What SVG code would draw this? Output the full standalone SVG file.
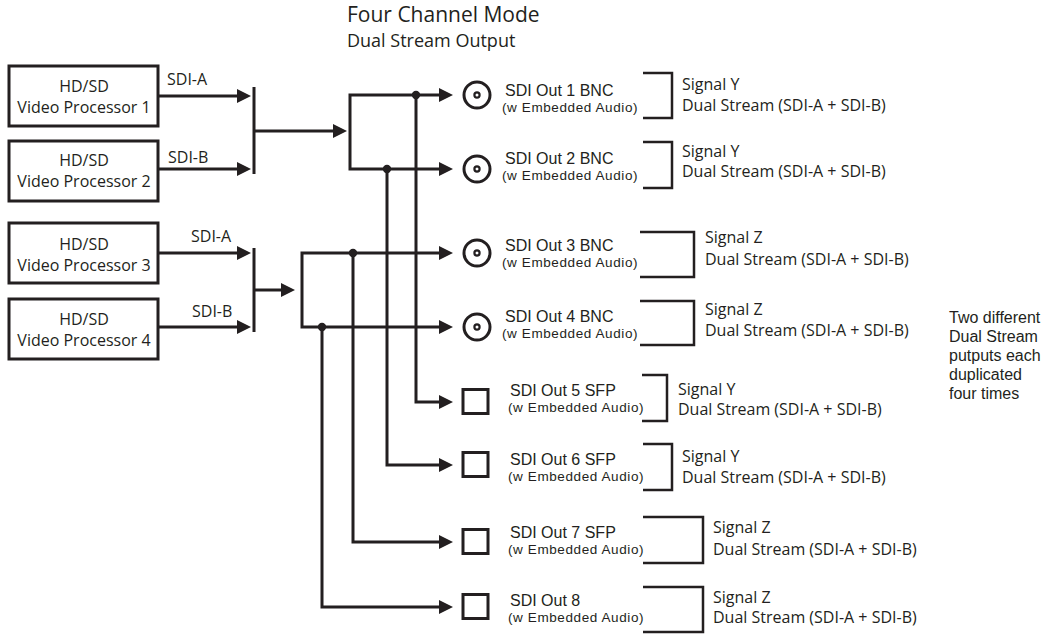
<svg xmlns="http://www.w3.org/2000/svg" width="1056" height="634" viewBox="0 0 1056 634">
<style>
.bg{fill:#ffffff}
.box{fill:#ffffff;stroke:#231f20;stroke-width:3}
.ln{fill:none;stroke:#231f20;stroke-width:3}
.br{fill:none;stroke:#231f20;stroke-width:2.5}
.arr{marker-end:url(#ah)}
.arr2{marker-start:url(#ahs);marker-end:url(#ah)}
.dot{fill:#231f20}
.bnc{fill:#ffffff;stroke:#231f20;stroke-width:3}
.bnci{fill:#ffffff;stroke:#231f20;stroke-width:2.2}
.t{font-family:'Open Sans','Liberation Sans',Arial,sans-serif;fill:#231f20;font-size:16px}
.m{font-family:'Liberation Sans',Arial,sans-serif;fill:#231f20;font-size:16px}
.s{font-family:'Liberation Sans',Arial,sans-serif;fill:#231f20;font-size:13.5px;letter-spacing:0.6px}
.n{font-family:'Liberation Sans',Arial,sans-serif;fill:#231f20;font-size:16px}
.c{text-anchor:middle}
</style>
<defs>
<marker id="ah" markerUnits="userSpaceOnUse" markerWidth="16" markerHeight="14" refX="1" refY="7" orient="auto">
<path d="M0,0 L14,7 L0,14 z" fill="#231f20"/>
</marker>
<marker id="ahs" markerUnits="userSpaceOnUse" markerWidth="16" markerHeight="14" refX="1" refY="7" orient="auto-start-reverse">
<path d="M0,0 L14,7 L0,14 z" fill="#231f20"/>
</marker>
</defs>
<rect class="bg" x="0" y="0" width="1056" height="634"/>

<g id="title">
<text class="t" x="347" y="22" style="font-size:21px">Four Channel Mode</text>
<text class="t" x="347" y="47" style="font-size:18px">Dual Stream Output</text>
</g>

<g id="vp1"><rect class="box" x="9" y="66" width="149" height="60"/><text class="t c" x="84" y="92">HD/SD</text><text class="t c" x="84" y="113">Video Processor 1</text></g>
<g id="vp2"><rect class="box" x="9" y="141" width="149" height="60"/><text class="t c" x="84" y="166">HD/SD</text><text class="t c" x="84" y="187">Video Processor 2</text></g>
<g id="vp3"><rect class="box" x="9" y="223" width="149" height="60"/><text class="t c" x="84" y="250">HD/SD</text><text class="t c" x="84" y="271">Video Processor 3</text></g>
<g id="vp4"><rect class="box" x="9" y="299" width="149" height="60"/><text class="t c" x="84" y="325">HD/SD</text><text class="t c" x="84" y="346">Video Processor 4</text></g>

<g id="connectors">
<path class="ln arr" d="M158,96 H238"/>
<path class="ln arr" d="M158,169 H238"/>
<path class="ln" d="M254,87 V174"/>
<path class="ln arr" d="M254,131 H334"/>
<path class="ln arr2" d="M440,95 H350 V169 H440"/>
<path class="ln arr" d="M416,95 V402 H440"/>
<path class="ln arr" d="M387,169 V465 H440"/>
<circle class="dot" cx="416" cy="95" r="4.2"/>
<circle class="dot" cx="387" cy="169" r="4.2"/>

<path class="ln arr" d="M158,253 H238"/>
<path class="ln arr" d="M158,327 H238"/>
<path class="ln" d="M254,248 V332"/>
<path class="ln arr" d="M254,290 H282"/>
<path class="ln arr2" d="M440,253 H302 V327 H440"/>
<path class="ln arr" d="M353,253 V542 H440"/>
<path class="ln arr" d="M322,327 V607 H440"/>
<circle class="dot" cx="353" cy="253" r="4.2"/>
<circle class="dot" cx="322" cy="327" r="4.2"/>

<text class="t" x="167" y="85">SDI-A</text>
<text class="t" x="168" y="163">SDI-B</text>
<text class="t" x="191" y="242">SDI-A</text>
<text class="t" x="192" y="317">SDI-B</text>
</g>

<g id="out1">
<circle class="bnc" cx="477" cy="95" r="13"/><circle class="bnci" cx="477" cy="95" r="2.6"/>
<text class="m" x="505" y="95.5">SDI Out 1 BNC</text><text class="s" x="502" y="112">(w Embedded Audio)</text>
<path class="br" d="M643,73 H672 V118 H643"/>
<text class="t" x="682" y="90">Signal Y</text><text class="t" x="682" y="111">Dual Stream (SDI-A + SDI-B)</text>
</g>
<g id="out2">
<circle class="bnc" cx="477" cy="169" r="13"/><circle class="bnci" cx="477" cy="169" r="2.6"/>
<text class="m" x="505" y="163.5">SDI Out 2 BNC</text><text class="s" x="502" y="180">(w Embedded Audio)</text>
<path class="br" d="M643,142 H672 V188 H643"/>
<text class="t" x="682" y="157">Signal Y</text><text class="t" x="682" y="177">Dual Stream (SDI-A + SDI-B)</text>
</g>
<g id="out3">
<circle class="bnc" cx="477" cy="253" r="13"/><circle class="bnci" cx="477" cy="253" r="2.6"/>
<text class="m" x="505" y="250.5">SDI Out 3 BNC</text><text class="s" x="502" y="267">(w Embedded Audio)</text>
<path class="br" d="M640,232 H694 V277 H640"/>
<text class="t" x="705" y="243">Signal Z</text><text class="t" x="705" y="265">Dual Stream (SDI-A + SDI-B)</text>
</g>
<g id="out4">
<circle class="bnc" cx="477" cy="327" r="13"/><circle class="bnci" cx="477" cy="327" r="2.6"/>
<text class="m" x="505" y="321.5">SDI Out 4 BNC</text><text class="s" x="502" y="338">(w Embedded Audio)</text>
<path class="br" d="M640,301 H694 V345 H640"/>
<text class="t" x="705" y="315">Signal Z</text><text class="t" x="705" y="336">Dual Stream (SDI-A + SDI-B)</text>
</g>
<g id="out5">
<rect class="box" x="463" y="389.5" width="25" height="24"/>
<text class="m" x="510" y="395.5">SDI Out 5 SFP</text><text class="s" x="508" y="412">(w Embedded Audio)</text>
<path class="br" d="M642,375 H667 V421 H642"/>
<text class="t" x="678" y="395">Signal Y</text><text class="t" x="678" y="415">Dual Stream (SDI-A + SDI-B)</text>
</g>
<g id="out6">
<rect class="box" x="463" y="452.5" width="25" height="24"/>
<text class="m" x="510" y="464.5">SDI Out 6 SFP</text><text class="s" x="508" y="481">(w Embedded Audio)</text>
<path class="br" d="M643,444 H672 V490 H643"/>
<text class="t" x="682" y="462">Signal Y</text><text class="t" x="682" y="483">Dual Stream (SDI-A + SDI-B)</text>
</g>
<g id="out7">
<rect class="box" x="463" y="529.5" width="25" height="24"/>
<text class="m" x="510" y="537.5">SDI Out 7 SFP</text><text class="s" x="508" y="554">(w Embedded Audio)</text>
<path class="br" d="M643,517 H703 V563 H643"/>
<text class="t" x="713" y="533">Signal Z</text><text class="t" x="713" y="555">Dual Stream (SDI-A + SDI-B)</text>
</g>
<g id="out8">
<rect class="box" x="463" y="594.5" width="25" height="24"/>
<text class="m" x="510" y="605.5">SDI Out 8</text><text class="s" x="508" y="622">(w Embedded Audio)</text>
<path class="br" d="M643,587 H703 V632 H643"/>
<text class="t" x="713" y="603">Signal Z</text><text class="t" x="713" y="623">Dual Stream (SDI-A + SDI-B)</text>
</g>

<g id="note">
<text class="n" x="949" y="323">Two different</text>
<text class="n" x="949" y="342">Dual Stream</text>
<text class="n" x="949" y="361">putputs each</text>
<text class="n" x="949" y="380">duplicated</text>
<text class="n" x="949" y="399">four times</text>
</g>
</svg>
